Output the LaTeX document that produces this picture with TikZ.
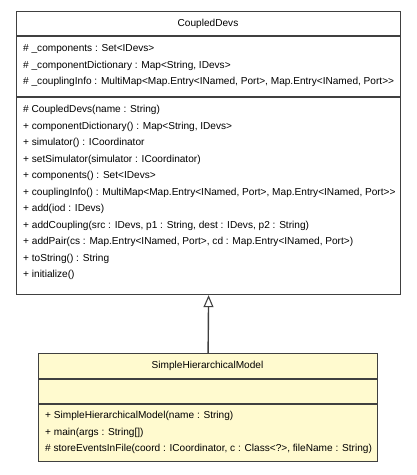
\documentclass[tikz,border=0pt]{standalone}
\usepackage{fontspec}
\setmainfont{Liberation Sans}
\usetikzlibrary{arrows.meta}
\definecolor{umlfill}{RGB}{255,250,207}
\definecolor{umlline}{RGB}{64,64,64}
\tikzset{
  classbox/.style={draw=umlline, line width=1.2pt, rectangle, anchor=north west, inner sep=0pt},
  sepline/.style={draw=umlline, line width=1.2pt},
  member/.style={anchor=west, inner sep=0pt, font=\fontsize{10.1}{11}\selectfont},
  title/.style={anchor=center, inner sep=0pt, font=\fontsize{10.1}{11}\selectfont},
  inherit/.style={draw=umlline, line width=1.4pt, -{Triangle[open, length=12pt, width=10pt, line width=1.1pt]}}
}
\begin{document}
\begin{tikzpicture}[x=1pt, y=-1pt]
\useasboundingbox (0,0) rectangle (416,475);
% CoupledDevs
\node[classbox, fill=white, minimum width=384pt, minimum height=283pt] (cd) at (16,11) {};
\draw[sepline] (16,36) -- (400,36);
\draw[sepline] (16,97) -- (400,97);
\node[title] (cdt) at (208,23.5) {CoupledDevs};
\node[member] (a1) at (23,49) {\# \_components : Set<IDevs>};
\node[member] (a2) at (23,65.5) {\# \_componentDictionary : Map<String, IDevs>};
\node[member] (a3) at (23,82) {\# \_couplingInfo : MultiMap<Map.Entry<INamed, Port>, Map.Entry<INamed, Port>{}>};
\node[member] (m1) at (23,110) {\# CoupledDevs(name : String)};
\node[member] (m2) at (23,126.5) {+ componentDictionary() : Map<String, IDevs>};
\node[member] (m3) at (23,143) {+ simulator() : ICoordinator};
\node[member] (m4) at (23,159.5) {+ setSimulator(simulator : ICoordinator)};
\node[member] (m5) at (23,176) {+ components() : Set<IDevs>};
\node[member] (m6) at (23,192.5) {+ couplingInfo() : MultiMap<Map.Entry<INamed, Port>, Map.Entry<INamed, Port>{}>};
\node[member] (m7) at (23,209) {+ add(iod : IDevs)};
\node[member] (m8) at (23,225.5) {+ addCoupling(src : IDevs, p1 : String, dest : IDevs, p2 : String)};
\node[member] (m9) at (23,242) {+ addPair(cs : Map.Entry<INamed, Port>, cd : Map.Entry<INamed, Port>)};
\node[member] (m10) at (23,258.5) {+ toString() : String};
\node[member] (m11) at (23,275) {+ initialize()};
% SimpleHierarchicalModel
\node[classbox, fill=umlfill, minimum width=339pt, minimum height=108pt] (sh) at (38,353) {};
\draw[sepline] (38,379) -- (377,379);
\draw[sepline] (38,404) -- (377,404);
\node[title] (sht) at (207.5,366) {SimpleHierarchicalModel};
\node[member] (s1) at (45,416) {+ SimpleHierarchicalModel(name : String)};
\node[member] (s2) at (45,432.5) {+ main(args : String[])};
\node[member] (s3) at (45,449) {\# storeEventsInFile(coord : ICoordinator, c : Class<?>, fileName : String)};
% generalization
\draw[inherit] (sh.north) -- (cd.south);
\end{tikzpicture}
\end{document}
